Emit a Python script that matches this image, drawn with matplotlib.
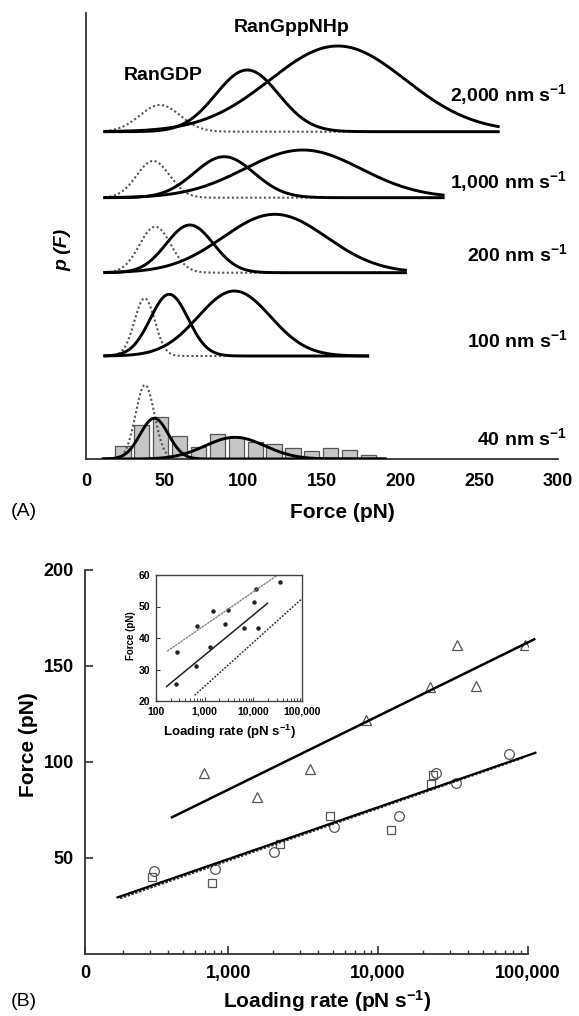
import numpy as np
import matplotlib
matplotlib.use("Agg")
import matplotlib.pyplot as plt
from matplotlib.ticker import FixedLocator, NullFormatter, LogLocator

plt.rcParams["font.family"] = ["Liberation Sans", "DejaVu Sans"]
plt.rcParams["font.weight"] = "bold"
plt.rcParams["mathtext.fontset"] = "custom"
plt.rcParams["mathtext.rm"] = "Liberation Sans:bold"
plt.rcParams["mathtext.default"] = "rm"

# ---- (A) distribuicoes p(F) por taxa de carregamento ----
taxas = ["2,000", "1,000", "200", "100", "40"]
f_inicio = [12, 12, 12, 12, 11]
f_fim = [262, 227, 203, 179, 190]
# RanGDP (pontilhado): centro, largura, altura
gdp_centro = [47, 42.7, 44, 37.3, 37.5]
gdp_sigma = [12.9, 10.5, 10, 6.5, 6]
gdp_altura = [26.7, 36.7, 46, 57.7, 74]
# RanGppNHp, pico 1 e pico 2
p1_centro = [102.5, 87.8, 66, 52.9, 43.4]
p1_sigma = [20, 19, 15, 12, 9]
p1_altura = [61.7, 41, 47.7, 61.7, 40.7]
p2_centro = [160, 137.8, 120, 94.3, 94.7]
p2_sigma = [43, 37, 33, 23, 19]
p2_altura = [85.7, 47.7, 58.4, 65, 21.7]

# histograma a 40 nm/s
hist_centros = [23.5, 35.5, 47.5, 59.5, 71.5, 83.5, 95.5, 107.5, 119.5,
                131.5, 143.5, 155.5, 167.5, 179.5]
hist_contagens = [13.3, 34, 41.7, 23, 12.3, 25, 21.7, 17.3, 15, 11.3,
                  7.7, 11.3, 9.3, 4]

# ---- (B) forca x taxa de carregamento ----
tri_taxa = [33500, 95500, 22200, 44900, 8260, 693, 3530, 1550]
tri_forca = [161, 161, 139, 139.6, 122, 94.1, 96.2, 81.6]
circ_taxa = [74600, 24250, 33100, 13770, 5100, 2027, 818, 321]
circ_forca = [104.2, 94.1, 88.9, 71.9, 66.0, 53.3, 44.1, 43.2]
quad_taxa = [22650, 23200, 4745, 12160, 2204, 776, 312]
quad_forca = [88.5, 93, 71.9, 64.6, 57.3, 37.1, 40.3]
ajuste_sup_taxa = [422, 110000]
ajuste_sup_forca = [71.2, 163.9]
ajuste_inf_taxa = [183, 112000]
ajuste_inf_forca = [29.5, 104.8]
ajuste_inf2_taxa = [190, 95000]
ajuste_inf2_forca = [29.1, 102.6]

# inset
ins_taxa = [271, 258, 684, 649, 1500, 1260, 3020, 2620, 6300, 11600,
            10300, 12600, 34800]
ins_forca = [35.7, 25.3, 43.8, 31.1, 48.5, 37.1, 49.0, 44.5, 43.1, 55.4,
             51.5, 43.1, 57.9]
ins_cinza_taxa = [170, 31600]
ins_cinza_forca = [35.8, 60]
ins_solida_taxa = [165, 19500]
ins_solida_forca = [24.6, 51]
ins_trac_taxa = [620, 100000]
ins_trac_forca = [21.8, 52.5]

W, H = 579, 1016
fig = plt.figure(figsize=(W / 100, H / 100), dpi=100)


def box(x0, y0, x1, y1):
    return [x0 / W, 1 - y1 / H, (x1 - x0) / W, (y1 - y0) / H]


# ================= painel A =================
axA = fig.add_axes(box(86, 13, 558, 459))
base = [327.3, 261.3, 186.3, 103, 0]

axA.bar(hist_centros, hist_contagens, width=9.7, color="#c6c6c6",
        edgecolor="#555555", linewidth=0.9, zorder=1)


def gauss(x, c, s, h):
    return h * np.exp(-0.5 * ((x - c) / s) ** 2)


for i in range(len(taxas)):
    x = np.linspace(f_inicio[i], f_fim[i], 500)
    axA.plot(x, base[i] + gauss(x, gdp_centro[i], gdp_sigma[i], gdp_altura[i]),
             color="#555555", lw=1.5, ls=(0, (1, 1.2)), zorder=2)
    axA.plot(x, base[i] + gauss(x, p1_centro[i], p1_sigma[i], p1_altura[i]),
             color="black", lw=2.1, zorder=3)
    axA.plot(x, base[i] + gauss(x, p2_centro[i], p2_sigma[i], p2_altura[i]),
             color="black", lw=2.1, zorder=3)

rotulo_y = [364, 277.3, 205, 119, 21]
for t, yy in zip(taxas, rotulo_y):
    axA.text(306, yy, t + r" nm s$^{-1}$", ha="right", va="center",
             fontsize=14, clip_on=False)

axA.text(49, 383, "RanGDP", ha="center", va="center", fontsize=14)
axA.text(131, 431, "RanGppNHp", ha="center", va="center", fontsize=14)

axA.set_xlim(0, 300)
axA.set_ylim(0, 446)
axA.set_xticks(range(0, 301, 50))
axA.set_yticks([])
axA.tick_params(axis="x", length=0, pad=10, labelsize=13)
for s in ["top", "right"]:
    axA.spines[s].set_visible(False)
for s in ["left", "bottom"]:
    axA.spines[s].set_linewidth(1.3)
    axA.spines[s].set_color("#333333")

fig.text(63 / W, 1 - 250 / H, "p (F)", rotation=90, ha="center",
         va="center", fontsize=14, fontstyle="italic")
fig.text(342 / W, 1 - 512 / H, "Force (pN)", ha="center", va="center",
         fontsize=15)
fig.text(24 / W, 1 - 512 / H, "(A)", ha="center", va="center",
         fontsize=14, fontweight="normal")

# ================= painel B =================
axB = fig.add_axes(box(85, 570, 528, 954))
mk = dict(ls="none", mfc="none", mec="#555555", mew=0.9, ms=7)
axB.plot(tri_taxa, tri_forca, marker="^", **mk)
axB.plot(circ_taxa, circ_forca, marker="o", **mk)
axB.plot(quad_taxa, quad_forca, marker="s", **dict(mk, ms=6))
axB.plot(ajuste_sup_taxa, ajuste_sup_forca, color="black", lw=1.8,
         clip_on=False)
axB.plot(ajuste_inf2_taxa, ajuste_inf2_forca, color="#333333", lw=1.8,
         ls=(0, (1, 0.6)), clip_on=False)
axB.plot(ajuste_inf_taxa, ajuste_inf_forca, color="black", lw=1.6,
         clip_on=False)

axB.set_xscale("log")
axB.set_xlim(111, 100000)
axB.set_ylim(0, 200)
axB.xaxis.set_major_locator(FixedLocator([111, 1000, 10000, 100000]))
axB.set_xticklabels(["0", "1,000", "10,000", "100,000"])
axB.xaxis.set_minor_locator(LogLocator(base=10, subs=np.arange(2, 10)))
axB.xaxis.set_minor_formatter(NullFormatter())
axB.set_yticks([50, 100, 150, 200])
axB.tick_params(axis="both", which="major", direction="in", length=6,
                width=1.2, labelsize=13, color="#333333")
axB.tick_params(axis="x", which="minor", direction="in", length=3,
                width=1.0, color="#333333")
axB.tick_params(axis="y", pad=8)
axB.tick_params(axis="x", pad=8)
for s in ["top", "right"]:
    axB.spines[s].set_visible(False)
for s in ["left", "bottom"]:
    axB.spines[s].set_linewidth(1.3)
    axB.spines[s].set_color("#333333")

fig.text(28 / W, 1 - 745 / H, "Force (pN)", rotation=90, ha="center",
         va="center", fontsize=15)
fig.text(327 / W, 1 - 1001 / H, r"Loading rate (pN s$^{-1}$)", ha="center",
         va="center", fontsize=15)
fig.text(24 / W, 1 - 1002 / H, "(B)", ha="center", va="center",
         fontsize=14, fontweight="normal")

# ---- inset ----
axI = fig.add_axes(box(156, 575, 302, 701))
axI.plot(ins_taxa, ins_forca, ls="none", marker="o", ms=2.2, color="#222222")
axI.plot(ins_cinza_taxa, ins_cinza_forca, color="#777777", lw=0.9,
         ls=(0, (2, 0.6)))
axI.plot(ins_solida_taxa, ins_solida_forca, color="#222222", lw=1.1)
axI.plot(ins_trac_taxa, ins_trac_forca, color="#333333", lw=1.1,
         ls=(0, (1.2, 1)))
axI.set_xscale("log")
axI.set_xlim(100, 100000)
axI.set_ylim(20, 60)
axI.set_xticks([100, 1000, 10000, 100000])
axI.set_xticklabels(["100", "1,000", "10,000", "100,000"])
axI.xaxis.set_minor_locator(LogLocator(base=10, subs=np.arange(2, 10)))
axI.xaxis.set_minor_formatter(NullFormatter())
axI.set_yticks([20, 30, 40, 50, 60])
axI.tick_params(axis="both", which="major", direction="in", length=3,
                width=0.8, labelsize=7.5, pad=4, color="#444444")
axI.tick_params(axis="x", which="minor", direction="in", length=2,
                width=0.7, color="#444444")
for s in axI.spines.values():
    s.set_linewidth(1.0)
    s.set_color("#444444")

fig.text(131 / W, 1 - 636 / H, "Force (pN)", rotation=90, ha="center",
         va="center", fontsize=7)
fig.text(230 / W, 1 - 732 / H, r"Loading rate (pN s$^{-1}$)", ha="center",
         va="center", fontsize=9.5)

fig.savefig("out.png", dpi=100)
